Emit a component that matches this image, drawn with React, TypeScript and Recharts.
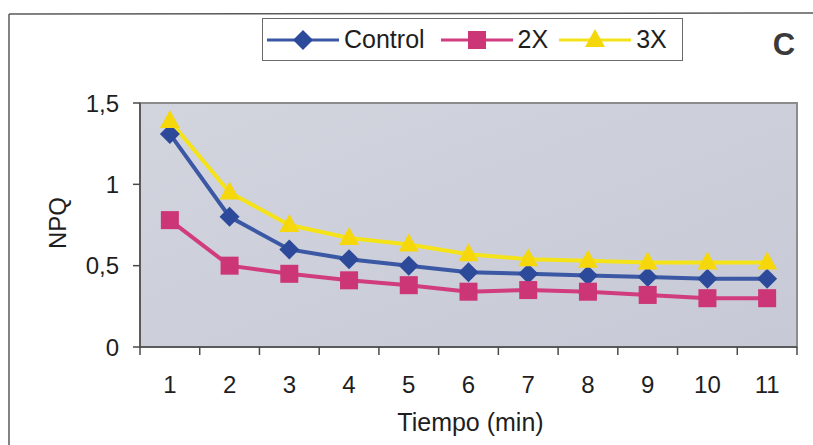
import React from 'react';
import { LineChart, Line, XAxis, YAxis, Legend, ReferenceArea } from 'recharts';

// NPQ over time for three treatments
const minutes = [1, 2, 3, 4, 5, 6, 7, 8, 9, 10, 11];
const control = [1.31, 0.8, 0.6, 0.54, 0.5, 0.46, 0.45, 0.44, 0.43, 0.42, 0.42];
const dose2x = [0.78, 0.5, 0.45, 0.41, 0.38, 0.34, 0.35, 0.34, 0.32, 0.3, 0.3];
const dose3x = [1.39, 0.95, 0.75, 0.67, 0.63, 0.57, 0.54, 0.53, 0.52, 0.52, 0.52];
const seriesNames = ['Control', '2X', '3X'];
const yTicks = [0, 0.5, 1, 1.5];
const xTitle = 'Tiempo (min)';
const yTitle = 'NPQ';
const panelLetter = 'C';

const data = minutes.map((m, i) => ({
  minute: m,
  control: control[i],
  dose2x: dose2x[i],
  dose3x: dose3x[i],
}));

// boundary ticks between the minute slots
const boundaryTicks = [0.5, ...minutes.map((m) => m + 0.5)];

const CHART_W = 813;
const CHART_H = 445;
const MARGIN = { top: 103, right: 16, bottom: 38, left: 0 };
const Y_AXIS_W = 140;
const X_AXIS_H = 60;
const PLOT_W = CHART_W - MARGIN.left - MARGIN.right - Y_AXIS_W;
const HALF_SLOT = PLOT_W / minutes.length / 2;

const FONT = '"Liberation Sans", Arial, sans-serif';
const TEXT = '#1e1e1e';

const COLORS = {
  control: { line: '#3b58a5', mark: '#2d4a9a' },
  dose2x: { line: '#d13c7e', mark: '#cc3576' },
  dose3x: { line: '#f5e31a', mark: '#f5d70c' },
};

const Diamond = ({ cx, cy, fill, r = 10 }: any) => (
  <path d={`M${cx},${cy - r}L${cx + r},${cy}L${cx},${cy + r}L${cx - r},${cy}Z`} fill={fill} />
);
const Square = ({ cx, cy, fill, s = 9 }: any) => (
  <rect x={cx - s} y={cy - s} width={s * 2} height={s * 2} fill={fill} />
);
const Triangle = ({ cx, cy, fill, w = 10 }: any) => (
  <path d={`M${cx},${cy - 11}L${cx + w},${cy + 7}L${cx - w},${cy + 7}Z`} fill={fill} />
);

const MARKERS: Record<string, any> = {
  control: Diamond,
  dose2x: Square,
  dose3x: Triangle,
};

const dotFor = (key: 'control' | 'dose2x' | 'dose3x') => (props: any) => {
  const Shape = MARKERS[key];
  if (props.cx == null || props.cy == null) return <g key={`${key}-${props.index}`} />;
  return (
    <g key={`${key}-${props.index}`}>
      <Shape cx={props.cx} cy={props.cy} fill={COLORS[key].mark} />
    </g>
  );
};

const MinuteTick = (props: any) => {
  const { x, y, payload } = props;
  const label = payload.value + 0.5;
  if (label > minutes[minutes.length - 1]) return <g />;
  return (
    <text
      x={x + HALF_SLOT}
      y={y}
      dy={36}
      textAnchor="middle"
      fontSize={24}
      fontFamily={FONT}
      fill={TEXT}
    >
      {label}
    </text>
  );
};

const LegendContent = (props: any) => {
  const payload = [...(props.payload || [])].sort(
    (a: any, b: any) => seriesNames.indexOf(a.value) - seriesNames.indexOf(b.value)
  );
  return (
    <div
      style={{
        boxSizing: 'border-box',
        width: 421,
        height: 43,
        border: '1.5px solid #6a6a6a',
        background: '#fff',
        display: 'flex',
        alignItems: 'center',
        paddingLeft: 4,
        fontFamily: FONT,
        fontSize: 25,
        color: TEXT,
      }}
    >
      {payload.map((entry: any, i: number) => {
        const key = entry.dataKey as 'control' | 'dose2x' | 'dose3x';
        const Shape = MARKERS[key];
        return (
          <div
            key={entry.value}
            style={{ display: 'flex', alignItems: 'center', marginRight: i === 0 ? 16 : 11 }}
          >
            <svg width={72} height={24}>
              <line x1={0} y1={12} x2={72} y2={12} stroke={COLORS[key].line} strokeWidth={3} />
              <Shape cx={36} cy={12} fill={COLORS[key].mark} />
            </svg>
            <span style={{ marginLeft: 5, lineHeight: '25px' }}>{entry.value}</span>
          </div>
        );
      })}
    </div>
  );
};

const YTitle = (props: any) => {
  const { viewBox } = props;
  const cy = viewBox.y + viewBox.height / 2 - 2;
  return (
    <text
      x={57}
      y={cy}
      transform={`rotate(-90 57 ${cy})`}
      textAnchor="middle"
      dominantBaseline="central"
      fontSize={24}
      fontFamily={FONT}
      fill={TEXT}
    >
      {yTitle}
    </text>
  );
};

const XTitle = (props: any) => {
  const { viewBox } = props;
  return (
    <text
      x={viewBox.x + viewBox.width / 2 + 2}
      y={viewBox.y + 84}
      textAnchor="middle"
      fontSize={25}
      fontFamily={FONT}
      fill={TEXT}
    >
      {xTitle}
    </text>
  );
};

export default function App() {
  return (
    <div
      style={{
        position: 'absolute',
        left: 0,
        top: 0,
        width: CHART_W,
        height: CHART_H,
        background: '#fff',
        fontFamily: FONT,
      }}
    >
      <LineChart width={CHART_W} height={CHART_H} data={data} margin={MARGIN}>
        <defs>
          <linearGradient id="plotFill" x1="0" y1="0" x2="1" y2="1">
            <stop offset="0%" stopColor="#d2d4de" />
            <stop offset="100%" stopColor="#c7c9d6" />
          </linearGradient>
        </defs>
        <ReferenceArea
          x1={0.5}
          x2={11.5}
          y1={0}
          y2={1.5}
          fill="url(#plotFill)"
          fillOpacity={1}
          stroke="#8c8c8e"
          strokeWidth={2}
          ifOverflow="visible"
        />
        <XAxis
          dataKey="minute"
          type="number"
          domain={[0.5, 11.5]}
          ticks={boundaryTicks}
          interval={0}
          height={X_AXIS_H}
          tickSize={8}
          tick={<MinuteTick />}
          stroke="#4a4a4a"
          strokeWidth={1.5}
          label={<XTitle />}
        />
        <YAxis
          width={Y_AXIS_W}
          domain={[0, 1.5]}
          ticks={yTicks}
          interval={0}
          tickSize={7}
          tickMargin={14}
          tickFormatter={(v: number) => String(v).replace('.', ',')}
          tick={{ fontSize: 24, fontFamily: FONT, fill: TEXT }}
          stroke="#4a4a4a"
          strokeWidth={1.5}
          label={<YTitle />}
        />
        <Legend
          verticalAlign="middle"
          align="center"
          content={<LegendContent />}
          wrapperStyle={{ left: 262, top: 18, width: 421, height: 43 }}
        />
        <Line
          dataKey="control"
          name={seriesNames[0]}
          stroke={COLORS.control.line}
          strokeWidth={4}
          dot={dotFor('control')}
          activeDot={false}
          isAnimationActive={false}
        />
        <Line
          dataKey="dose2x"
          name={seriesNames[1]}
          stroke={COLORS.dose2x.line}
          strokeWidth={4}
          dot={dotFor('dose2x')}
          activeDot={false}
          isAnimationActive={false}
        />
        <Line
          dataKey="dose3x"
          name={seriesNames[2]}
          stroke={COLORS.dose3x.line}
          strokeWidth={4}
          dot={dotFor('dose3x')}
          activeDot={false}
          isAnimationActive={false}
        />
      </LineChart>
      <svg
        width={CHART_W}
        height={CHART_H}
        style={{ position: 'absolute', left: 0, top: 0, pointerEvents: 'none' }}
      >
        <line x1={9} y1={14} x2={CHART_W} y2={13} stroke="#5a5a5a" strokeWidth={1.5} />
        <line x1={9} y1={14} x2={9} y2={CHART_H} stroke="#5a5a5a" strokeWidth={1.5} />
        <text
          x={784}
          y={55}
          textAnchor="middle"
          fontSize={31}
          fontWeight="bold"
          fontFamily={FONT}
          fill="#3a3a3a"
        >
          {panelLetter}
        </text>
      </svg>
    </div>
  );
}
